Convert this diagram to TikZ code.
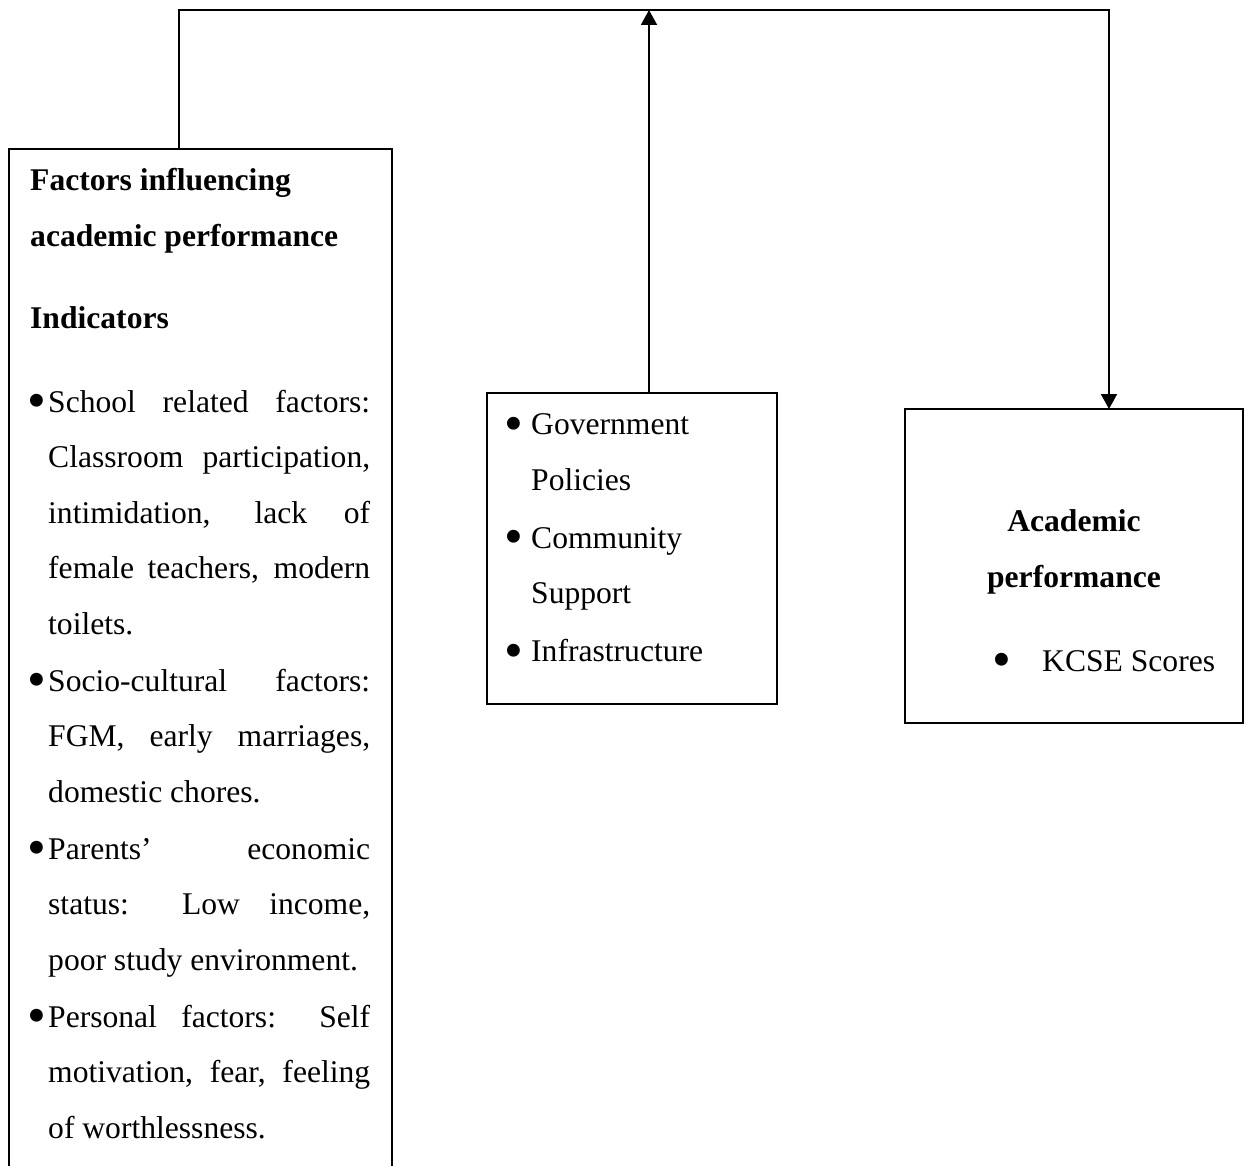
\documentclass[tikz,border=0pt]{standalone}
\usepackage{fontspec}
\setmainfont{Liberation Serif}
\usetikzlibrary{arrows.meta}

\newcommand{\dotmark}{\hspace*{-3pt}\raisebox{-6.3pt}{\scalebox{1.7}{\textbullet}}}
\newcommand{\factoritem}{\par\noindent\hangindent=18pt\hangafter=1\makebox[18pt][l]{\dotmark}}
\newcommand{\moditem}{\noindent\makebox[24pt][l]{\dotmark}}
\newcommand{\modcont}{\par\noindent\hspace*{24pt}}

\tikzset{
    frame/.style={draw, line width=1.9pt, inner sep=0pt, outer sep=0pt},
    link/.style={line width=1.9pt, -{Triangle[length=15pt, width=16pt]}},
    body/.style={inner sep=0pt, font=\fontsize{31.6}{55.5}\selectfont},
}

\begin{document}
\begin{tikzpicture}[x=1pt, y=-1pt]
    \useasboundingbox (0,0) rectangle (1248,1166);
    \clip (0,0) rectangle (1248,1166);

    \node[frame, anchor=north west, minimum width=383pt, minimum height=1100pt] (factors) at (9,149) {};
    \node[frame, anchor=north west, minimum width=290pt, minimum height=311pt] (moderators) at (487,393) {};
    \node[frame, anchor=north west, minimum width=338pt, minimum height=314pt] (performance) at (905,409) {};

    \node[body, anchor=north west, text width=340pt, align=justify] (factorstext) at (30,168.4) {%
        \tolerance=10000 \hyphenpenalty=10000 \exhyphenpenalty=10000 \parindent=0pt
        \textbf{Factors influencing}\par
        \textbf{academic performance}\par\vspace{26.5pt}
        \textbf{Indicators}\par\vspace{28.5pt}
        \factoritem School related factors:\linebreak Classroom participation,\linebreak intimidation, lack of\linebreak female teachers, modern\linebreak toilets.\par\vspace{1.5pt}
        \factoritem Socio-cultural factors:\linebreak FGM, early marriages,\linebreak domestic chores.\par\vspace{1.5pt}
        \factoritem Parents’ economic\linebreak status: Low income,\linebreak poor study environment.\par\vspace{1.5pt}
        \factoritem Personal factors: Self\linebreak motivation, fear, feeling\linebreak of worthlessness.\par
    };

    \node[body, anchor=north west, text width=260pt, align=left] (moderatorstext) at (507,413.6) {%
        \moditem Government
        \modcont Policies\par\vspace{2.5pt}
        \moditem Community
        \modcont Support\par\vspace{2.5pt}
        \moditem Infrastructure\par
    };

    \node[body, anchor=north, align=center] (perftitle) at (1074,509.4) {\textbf{Academic}\\\textbf{performance}};
    \node[body, anchor=base west] (kcse) at (995,671) {\makebox[47pt][l]{\dotmark}KCSE Scores};

    \coordinate (topright) at (1109,10);
    \draw[link] ([xshift=170pt]factors.north west) |- (topright) -- (topright |- performance.north);
    \draw[link] ([xshift=17pt]moderators.north) -- ([xshift=17pt]moderators.north |- topright);
\end{tikzpicture}
\end{document}
